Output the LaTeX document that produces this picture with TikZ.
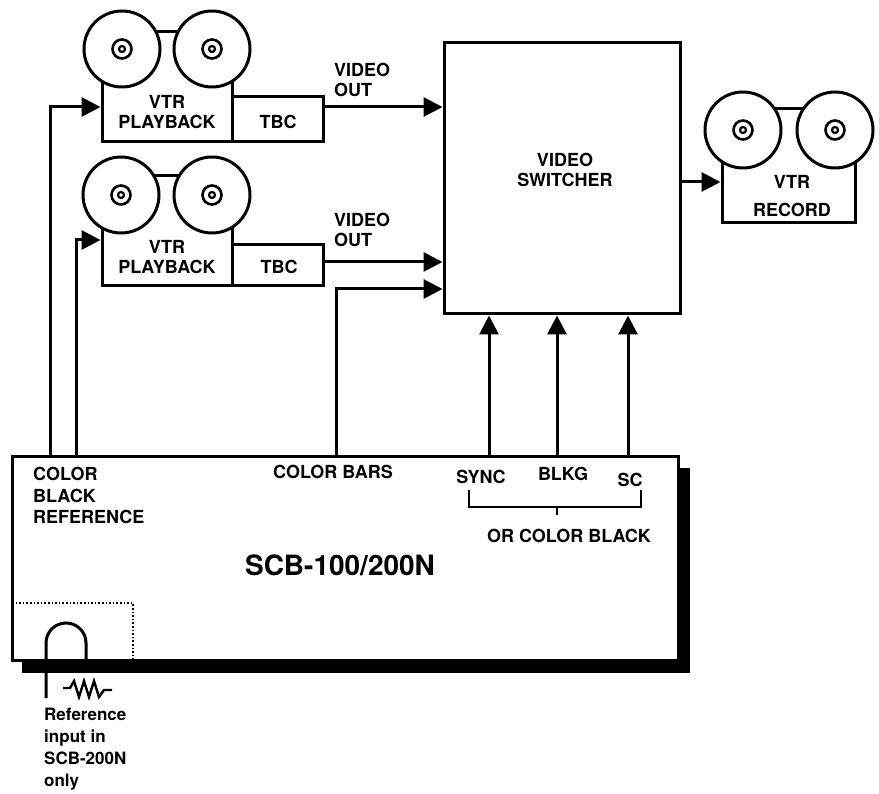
\documentclass[tikz,border=0pt]{standalone}
\usepackage{fontspec}
\setmainfont{TeX Gyre Heros}
\usetikzlibrary{arrows.meta}
\tikzset{
  x=1pt, y=-1pt,
  every node/.style={font=\bfseries\fontsize{18}{20.5}\selectfont},
  box/.style={draw, line width=3pt, fill=white, inner sep=0pt, rectangle},
  reel/.style={draw, circle, line width=3pt, fill=white, minimum size=76pt, inner sep=0pt},
  hubo/.style={draw, circle, line width=2.6pt, minimum size=19pt, inner sep=0pt},
  hubi/.style={draw, circle, line width=2.2pt, minimum size=6pt, inner sep=0pt},
  lbl/.style={inner sep=0pt, align=center},
  lline/.style={line width=3pt},
  arr/.style={line width=3pt, -{Triangle[length=19pt,width=19pt]}},
}
\newcommand\myreel[2]{%
  \node[reel] (#1) at (#2) {};
  \node[hubo] (#1o) at (#1.center) {};
  \node[hubi] (#1i) at (#1.center) {};
}
\begin{document}
\begin{tikzpicture}
\useasboundingbox (0,0) rectangle (879,794);

% ---------- VTR playback 1 ----------
\node[box, minimum width=130pt, minimum height=110pt] (vtr1) at (167,87) {};
\myreel{r1a}{122,49}
\myreel{r1b}{212,49}
\node[lbl] (vtr1t) at (167,112) {VTR\\PLAYBACK};
\node[box, minimum width=91pt, minimum height=45pt] (tbc1) at (277.5,119.5) {};
\node[lbl] (tbc1t) at (278,122) {TBC};

% ---------- VTR playback 2 ----------
\node[box, minimum width=130pt, minimum height=110pt] (vtr2) at (167,231) {};
\myreel{r2a}{121,195}
\myreel{r2b}{212,195}
\node[lbl] (vtr2t) at (167,257) {VTR\\PLAYBACK};
\node[box, minimum width=91pt, minimum height=41pt] (tbc2) at (277.5,265.5) {};
\node[lbl] (tbc2t) at (279,267) {TBC};

% ---------- Video switcher ----------
\node[box, minimum width=236pt, minimum height=271pt] (sw) at (562,178.5) {};
\node[lbl] (swt) at (565,170) {VIDEO\\SWITCHER};

% ---------- VTR record ----------
\node[box, minimum width=133pt, minimum height=114pt] (rec) at (788.5,166) {};
\myreel{r3a}{743,130}
\myreel{r3b}{835,130}
\node[lbl] (rect) at (792,196) {VTR\\[8pt]RECORD};

% ---------- SCB box ----------
\fill (22,468) rectangle (690,673);
\node[box, minimum width=666pt, minimum height=203pt] (scb) at (345,558.5) {};

% coordinates of connector corners
\coordinate (cb1) at (50,107);
\coordinate (cb2) at (76,240);
\coordinate (vo1) at (323,107);
\coordinate (vo2) at (323,262);
\coordinate (bars) at (336,289);
\coordinate (out) at (680,182);
\coordinate (s1) at (489,0);
\coordinate (s2) at (557,0);
\coordinate (s3) at (628,0);

% ---------- connectors ----------
\draw[arr] (scb.north -| cb1) |- (cb1 -| vtr1.west);
\draw[arr] (scb.north -| cb2) |- (cb2 -| vtr2.west);
\draw[arr] (tbc1.east |- vo1) -- (vo1 -| sw.west);
\draw[arr] (tbc2.east |- vo2) -- (vo2 -| sw.west);
\draw[arr] (scb.north -| bars) |- (bars -| sw.west);
\draw[arr] (sw.east |- out) -- (out -| rec.west);
\draw[arr] (scb.north -| s1) -- (sw.south -| s1);
\draw[arr] (scb.north -| s2) -- (sw.south -| s2);
\draw[arr] (scb.north -| s3) -- (sw.south -| s3);

% ---------- labels ----------
\node[lbl, anchor=west, align=left] (vot1) at (334,80) {VIDEO\\OUT};
\node[lbl, anchor=west, align=left] (vot2) at (334,230) {VIDEO\\OUT};

\node[lbl, anchor=north west, align=left, font=\bfseries\fontsize{18}{21.5}\selectfont] (cbr) at (33,467) {COLOR\\BLACK\\REFERENCE};
\node[lbl] (cbars) at (333,472) {COLOR BARS};
\node[lbl] (sync) at (481,477) {SYNC};
\node[lbl] (blkg) at (563,474) {BLKG};
\node[lbl] (sc) at (630,480) {SC};
\node[lbl] (orcb) at (569,536) {OR COLOR BLACK};
\node[lbl, font=\bfseries\fontsize{28}{32}\selectfont] (title) at (340,565) {SCB-100/200N};

\draw[line width=2.2pt] (469,490) -- (469,507) -- (641,507) -- (641,490);
\draw[line width=2.2pt] (557,507) -- (557,515);

% ---------- reference input detail ----------
\draw[line width=1.6pt, dotted] (12,603) -- (133,603) -- (133,660);
\draw[lline] (46,698) -- (46,643) arc[start angle=180, end angle=360, radius=20] -- (86,660);
\draw[line width=2.4pt, line join=miter] (63,688) -- (70,688) -- (74,681) -- (79,697) -- (84,681) -- (89,697) -- (94,681) -- (99,697) -- (104,690) -- (112,690);
\node[lbl, anchor=north west, align=left, font=\bfseries\fontsize{17}{22}\selectfont] (refin) at (44,708) {Reference\\input in\\SCB-200N\\only};
\end{tikzpicture}
\end{document}
